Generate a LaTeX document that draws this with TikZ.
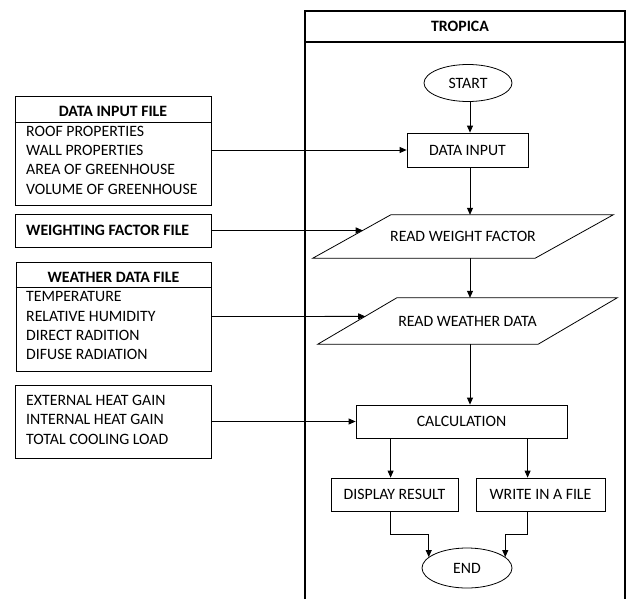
\documentclass[tikz,border=0pt]{standalone}
\usepackage{fontspec}
\setmainfont{Carlito}
\usetikzlibrary{arrows.meta,calc,shapes.geometric}
\newcommand{\figfont}{\fontsize{15.8}{18}\selectfont}
\tikzset{
  box/.style={draw, line width=0.8pt, inner sep=0pt},
  txt/.style={inner sep=0pt, anchor=west, font=\figfont},
  hdr/.style={inner sep=0pt, font=\figfont\bfseries},
  lbl/.style={inner sep=0pt, font=\figfont},
  arr/.style={line width=0.8pt, -{Triangle[length=7pt,width=6pt]}},
  ln/.style={line width=0.8pt},
  frame/.style={line width=1.4pt}
}
\begin{document}
\begin{tikzpicture}[x=1pt,y=-1pt]
\useasboundingbox (0,0) rectangle (631,599);
% TROPICA frame
\draw[frame] (305,599) -- (305,11) -- (625,11) -- (625,599);
\draw[frame] (305,42) -- (625,42);
\node[hdr] (trop) at (460,26.5) {TROPICA};

% left boxes
\node[box, minimum width=196pt, minimum height=109pt] (dif) at (113,150.5) {};
\draw[ln] ($(dif.north west)+(0,27)$) -- ($(dif.north east)+(0,27)$);
\node[hdr] (difh) at (113,111) {DATA INPUT FILE};
\node[txt] (dif1) at (26,131) {ROOF PROPERTIES};
\node[txt] (dif2) at (26,150) {WALL PROPERTIES};
\node[txt] (dif3) at (26,169) {AREA OF GREENHOUSE};
\node[txt] (dif4) at (26,189) {VOLUME OF GREENHOUSE};

\node[box, minimum width=196pt, minimum height=33pt] (wff) at (113,230.5) {};
\node[txt, font=\figfont\bfseries] (wfft) at (26,230.5) {WEIGHTING FACTOR FILE};

\node[box, minimum width=195pt, minimum height=109pt] (wdf) at (113.5,316.5) {};
\draw[ln] ($(wdf.north west)+(0,26)$) -- ($(wdf.north east)+(0,26)$);
\node[hdr] (wdfh) at (113.5,277) {WEATHER DATA FILE};
\node[txt] (wdf1) at (26,296) {TEMPERATURE};
\node[txt] (wdf2) at (26,316) {RELATIVE HUMIDITY};
\node[txt] (wdf3) at (26,335) {DIRECT RADITION};
\node[txt] (wdf4) at (26,354) {DIFUSE RADIATION};

\node[box, minimum width=196pt, minimum height=73pt] (hgb) at (113,421.5) {};
\node[txt] (hgb1) at (26,400) {EXTERNAL HEAT GAIN};
\node[txt] (hgb2) at (26,419) {INTERNAL HEAT GAIN};
\node[txt] (hgb3) at (26,439) {TOTAL COOLING LOAD};

% flow
\node[box, ellipse, minimum width=88pt, minimum height=37pt, lbl] (start) at (468,83) {START};
\node[box, minimum width=121pt, minimum height=34pt, lbl] (di) at (467.5,150) {DATA INPUT};

\node[lbl, minimum width=300pt, minimum height=43pt] (rwf) at (463,236.5) {READ WEIGHT FACTOR};
\coordinate (rwfTL) at ($(rwf.north west)+(78,0)$);
\coordinate (rwfBR) at ($(rwf.south east)+(-78,0)$);
\draw[ln] (rwf.south west) -- (rwfTL) -- (rwf.north east) -- (rwfBR) -- cycle;
\coordinate (rwfIn) at ($(rwf.south west)!0.64!(rwfTL)$);

\node[lbl, minimum width=299pt, minimum height=46pt] (rww) at (467.5,321) {READ WEATHER DATA};
\coordinate (rwwTL) at ($(rww.north west)+(79,0)$);
\coordinate (rwwBR) at ($(rww.south east)+(-79,0)$);
\draw[ln] (rww.south west) -- (rwwTL) -- (rww.north east) -- (rwwBR) -- cycle;
\coordinate (rwwIn) at ($(rww.south west)!0.6!(rwwTL)$);

\node[box, minimum width=211pt, minimum height=33pt, lbl] (calc) at (461.5,421.5) {CALCULATION};
\node[box, minimum width=127pt, minimum height=33pt, lbl] (disp) at (394.5,494.5) {DISPLAY RESULT};
\node[box, minimum width=129pt, minimum height=33pt, lbl] (wif) at (540.5,494.5) {WRITE IN A FILE};
\node[box, ellipse, minimum width=90pt, minimum height=40pt, lbl] (end) at (467,568) {END};

\coordinate (dispTop) at ($(disp.north west)+(60,0)$);
\coordinate (wifTop) at ($(wif.north west)+(52,0)$);
\coordinate (axis) at (470,0);

% connectors
\draw[arr] (start.south -| axis) -- (di.north -| axis);
\draw[arr] (di.south -| axis) -- (rwf.north -| axis);
\draw[arr] (rwf.south -| axis) -- (rww.north -| axis);
\draw[arr] (rww.south -| axis) -- (calc.north -| axis);
\draw[arr] (calc.south -| dispTop) -- (dispTop);
\draw[arr] (calc.south -| wifTop) -- (wifTop);
\draw[arr] (disp.south -| dispTop) -- ++(0,23) -| (end.164);
\draw[arr] (wif.south -| wifTop) -- ++(0,23) -| (end.16);

\draw[arr] (dif.east |- di.west) -- (di.west);
\draw[arr] (wff.east) -- (rwfIn);
\draw[arr] (wdf.east) -- (rwwIn);
\draw[arr] (hgb.east) -- (calc.west);
\end{tikzpicture}
\end{document}
